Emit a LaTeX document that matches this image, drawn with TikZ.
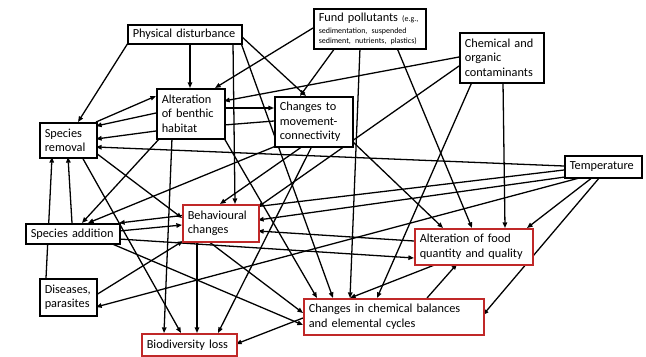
\documentclass[tikz,border=0pt]{standalone}
\usepackage{fontspec}
\setmainfont{Carlito}
\usetikzlibrary{arrows.meta,calc}
\pgfdeclarelayer{bg}
\pgfsetlayers{bg,main}
\definecolor{boxred}{RGB}{192,40,40}
\newcommand\conn[6]{\draw[arr] ($(#1.north west)+(#2,#3)$) -- ($(#4.north west)+(#5,#6)$);}
\newcommand\plainconn[6]{\draw[line] ($(#1.north west)+(#2,#3)$) -- ($(#4.north west)+(#5,#6)$);}
\begin{document}
\begin{tikzpicture}[x=0.3mm,y=-0.3mm,
  font=\fontsize{10.5}{12.5}\selectfont,
  bx/.style={draw=black, line width=1.3pt, fill=white, anchor=north west,
    inner xsep=1.5mm, inner ysep=0pt, align=left},
  rbx/.style={bx, draw=boxred},
  line/.style={line width=1.1pt, black},
  arr/.style={line, -{Triangle[length=4.8pt,width=3.8pt]}}]
\useasboundingbox (0,0) rectangle (646,356);

\node[bx, text width=31.2mm, minimum height=5.7mm] (PD) at (127,24) {Physical~disturbance};
\node[bx, text width=30.6mm, minimum height=12mm] (FP) at (313,8)
  {Fund pollutants {\fontsize{6.8}{8}\selectfont (e.g.,}\par\vspace{1.2pt}%
   {\fontsize{6.8}{8.9}\selectfont sedimentation, suspended\\sediment, nutrients, plastics)\par}};
\node[bx, text width=22.2mm, minimum height=15mm] (CC) at (459,32) {Chemical and\\organic\\contaminants};
\node[bx, text width=17.4mm, minimum height=15mm] (AB) at (156,88) {Alteration\\of benthic\\habitat};
\node[bx, text width=20.4mm, minimum height=15mm] (CtM) at (274,96) {Changes to\\movement-\\connectivity};
\node[bx, text width=14.1mm, minimum height=10.5mm] (SR) at (39,122) {Species\\removal};
\node[bx, text width=20.1mm, minimum height=6.6mm] (T) at (564,155) {Temperature};
\node[rbx, text width=19.8mm, minimum height=11.1mm] (BC) at (182,204) {Behavioural\\changes};
\node[bx, text width=25.2mm, minimum height=6mm] (SA) at (25,223) {Species~addition};
\node[bx, text width=14.1mm, minimum height=11.1mm] (DP) at (39,278) {Diseases,\\parasites};
\node[rbx, text width=32.4mm, minimum height=10.8mm] (AFQ) at (414,228) {Alteration of food\\quantity and quality};
\node[rbx, text width=51mm, minimum height=10.8mm] (CCB) at (303,298) {Changes in chemical balances\\and elemental cycles};
\node[rbx, text width=25.5mm, minimum height=6.6mm] (BL) at (141,333) {Biodiversity~loss};

\begin{pgfonlayer}{bg}
\fill[white] (0,0) rectangle (646,356);
\conn{PD}{1}{19}{SR}{39}{0}
\conn{PD}{63}{19}{AB}{34}{0}
\conn{PD}{106}{19}{BC}{53}{0}
\conn{PD}{114}{12}{CtM}{32}{0}
\conn{PD}{114}{19}{CCB}{30}{0}
\conn{FP}{0}{20}{AB}{59}{0}
\conn{FP}{22}{40}{CtM}{26}{0}
\conn{FP}{47}{40}{CCB}{47}{0}
\conn{FP}{84}{40}{AFQ}{58}{0}
\conn{CC}{0}{25}{AB}{68}{13}
\conn{CC}{0}{34}{BC}{76}{3}
\conn{CC}{13}{50}{CCB}{74}{0}
\conn{CC}{44}{50}{AFQ}{91}{0}
\conn{AB}{68}{20}{CtM}{0}{12}
\plainconn{AB}{68}{37}{CtM}{0}{25}
\conn{SR}{57}{0}{AB}{0}{8}
\conn{AB}{0}{25}{SR}{57}{4}
\conn{AB}{0}{43}{SR}{57}{17}
\conn{T}{0}{11}{SR}{57}{25}
\conn{SA}{47}{0}{SR}{29}{35}
\conn{DP}{7}{0}{SR}{13}{35}
\conn{SR}{57}{31}{BC}{0}{14}
\conn{SA}{94}{8}{BC}{0}{21}
\conn{T}{0}{15}{SA}{94}{0}
\conn{SR}{43}{35}{BL}{40}{0}
\conn{AB}{16}{50}{BL}{23}{0}
\conn{AB}{4}{50}{SA}{57}{0}
\conn{CtM}{2}{50}{SA}{63}{0}
\conn{CtM}{38}{50}{BL}{77}{0}
\conn{CtM}{29}{50}{BC}{38}{0}
\conn{CtM}{78}{45}{AFQ}{29}{0}
\conn{AB}{68}{50}{CCB}{14}{0}
\conn{T}{1}{22}{BC}{76}{16}
\conn{AFQ}{0}{13}{BC}{76}{27}
\conn{SA}{94}{16}{AFQ}{0}{30}
\conn{SA}{85}{20}{CCB}{0}{27}
\conn{BC}{26}{37}{CCB}{0}{15}
\conn{BC}{15}{37}{BL}{56}{0}
\conn{DP}{57}{17}{BC}{1}{37}
\conn{T}{19}{22}{DP}{57}{29}
\conn{T}{29}{22}{AFQ}{113}{0}
\conn{T}{36}{22}{CCB}{180}{17}
\conn{CCB}{0}{20}{BL}{95}{11}
\conn{AFQ}{23}{36}{CCB}{47}{0}
\conn{CCB}{124}{0}{AFQ}{43}{36}
\end{pgfonlayer}
\end{tikzpicture}
\end{document}
